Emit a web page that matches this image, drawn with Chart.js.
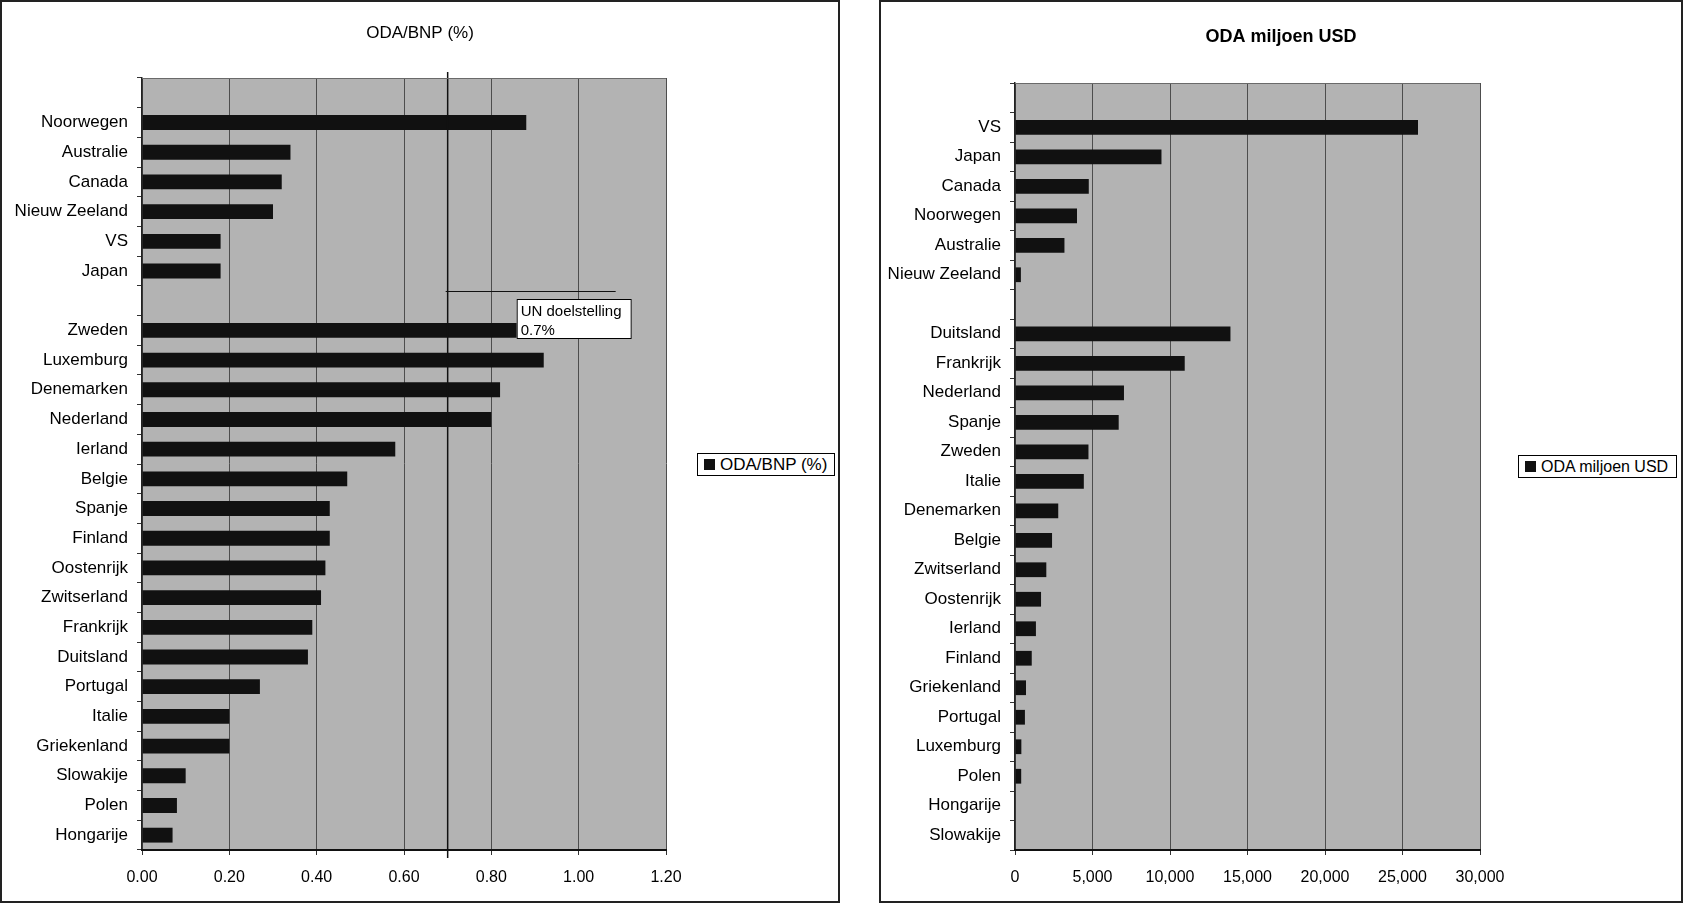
<!DOCTYPE html>
<html>
<head>
<meta charset="utf-8">
<script src="https://cdn.jsdelivr.net/npm/chart.js@4.4.1/dist/chart.umd.min.js"></script>
<style>
  body { margin: 0; background: #fff; }
  .paneel { position: absolute; top: 0; height: 903px; }
  .paneel canvas { position: absolute; left: 0; top: 0; }
  .rand { position: absolute; left: 0; top: 0; right: 0; bottom: 0; box-sizing: border-box; border: 2px solid #222; pointer-events: none; }
  .legenda { position: absolute; height: 23px; box-sizing: border-box; border: 1px solid #000; background: #fff;
             display: flex; align-items: center; padding-left: 6px; font: 17px 'Liberation Sans', Arial, sans-serif; color: #000; white-space: nowrap; }
  .legenda .blok { width: 11px; height: 11px; background: #111; margin-right: 5px; flex: none; }
</style>
</head>
<body>
<div class="paneel" style="left:0;width:840px">
  <canvas id="grafiekL" width="840" height="903"></canvas>
  <div class="rand"></div>
  <div class="legenda" id="legL" style="left:697px;top:453px;width:138px"></div>
</div>
<div class="paneel" style="left:879px;width:804px">
  <canvas id="grafiekR" width="804" height="903"></canvas>
  <div class="rand"></div>
  <div class="legenda" id="legR" style="left:639px;top:455px;width:159px;font-size:16px"></div>
</div>
<script>
// ODA als percentage van het BNP (lege plekken scheiden de groepen)
var landenBnp = ['', 'Noorwegen', 'Australie', 'Canada', 'Nieuw Zeeland', 'VS', 'Japan', '',
    'Zweden', 'Luxemburg', 'Denemarken', 'Nederland', 'Ierland', 'Belgie', 'Spanje', 'Finland',
    'Oostenrijk', 'Zwitserland', 'Frankrijk', 'Duitsland', 'Portugal', 'Italie', 'Griekenland',
    'Slowakije', 'Polen', 'Hongarije'];
var odaBnp = [null, 0.88, 0.34, 0.32, 0.30, 0.18, 0.18, null,
    0.98, 0.92, 0.82, 0.80, 0.58, 0.47, 0.43, 0.43,
    0.42, 0.41, 0.39, 0.38, 0.27, 0.20, 0.20,
    0.10, 0.08, 0.07];
var bnpTicks = { min: 0, max: 1.2, stap: 0.2 };
var unDoel = 0.7;

// ODA in miljoen USD
var landenUsd = ['', 'VS', 'Japan', 'Canada', 'Noorwegen', 'Australie', 'Nieuw Zeeland', '',
    'Duitsland', 'Frankrijk', 'Nederland', 'Spanje', 'Zweden', 'Italie', 'Denemarken', 'Belgie',
    'Zwitserland', 'Oostenrijk', 'Ierland', 'Finland', 'Griekenland', 'Portugal', 'Luxemburg',
    'Polen', 'Hongarije', 'Slowakije'];
var odaUsd = [null, 26000, 9450, 4760, 4000, 3190, 380, null,
    13900, 10950, 7030, 6690, 4740, 4440, 2790, 2390,
    2020, 1680, 1350, 1080, 710, 640, 410,
    400, 0, 0];
var usdTicks = { min: 0, max: 30000, stap: 5000 };

Chart.defaults.font.family = "'Liberation Sans', Arial, sans-serif";
Chart.defaults.color = '#000';

// grijze achtergrond van het plotvlak + bovenrand
var achtergrond = {
    id: 'achtergrond',
    beforeDraw: function(chart) {
        var a = chart.chartArea, ctx = chart.ctx;
        ctx.save();
        ctx.fillStyle = '#b3b3b3';
        ctx.fillRect(a.left, a.top, a.right - a.left, a.bottom - a.top);
        ctx.restore();
    },
    afterDraw: function(chart) {
        var a = chart.chartArea, ctx = chart.ctx;
        ctx.save();
        ctx.strokeStyle = '#6a6a6a';
        ctx.lineWidth = 1;
        ctx.beginPath();
        ctx.moveTo(a.left, a.top + 0.5);
        ctx.lineTo(a.right, a.top + 0.5);
        ctx.stroke();
        ctx.restore();
    }
};

// UN doelstelling 0.7%
var unLijn = {
    id: 'unLijn',
    afterDatasetsDraw: function(chart) {
        var a = chart.chartArea, ctx = chart.ctx;
        var px = chart.scales.x.getPixelForValue(unDoel);
        ctx.save();
        ctx.strokeStyle = '#111';
        ctx.lineWidth = 1.5;
        ctx.beginPath();
        ctx.moveTo(px, a.top - 6);
        ctx.lineTo(px, a.bottom + 8);
        ctx.stroke();

        var ly = a.top + 213.5;
        ctx.lineWidth = 1.2;
        ctx.beginPath();
        ctx.moveTo(px - 2, ly);
        ctx.lineTo(px + 168, ly);
        ctx.stroke();

        var bx = px + 69, by = a.top + 221;
        ctx.fillStyle = '#fff';
        ctx.fillRect(bx, by, 115, 40);
        ctx.strokeStyle = '#000';
        ctx.lineWidth = 1;
        ctx.strokeRect(bx + 0.5, by + 0.5, 114, 39);
        ctx.fillStyle = '#000';
        ctx.font = "15px 'Liberation Sans', Arial, sans-serif";
        ctx.textBaseline = 'middle';
        ctx.textAlign = 'left';
        ctx.fillText('UN doelstelling', bx + 4, by + 13);
        ctx.fillText('0.7%', bx + 4, by + 32);
        ctx.restore();
    }
};

function maakGrafiek(id, titel, titelFont, titelPad, labels, waarden, schaal, fmt, maten, extra) {
    return new Chart(document.getElementById(id), {
        type: 'bar',
        data: {
            labels: labels,
            datasets: [{
                label: titel,
                data: waarden,
                backgroundColor: '#111',
                borderWidth: 0,
                categoryPercentage: 1,
                barPercentage: 0.5
            }]
        },
        options: {
            responsive: false,
            animation: false,
            indexAxis: 'y',
            layout: { padding: 0 },
            plugins: {
                legend: { display: false },
                tooltip: { enabled: false },
                title: {
                    display: true,
                    text: titel,
                    color: '#000',
                    font: titelFont,
                    padding: titelPad
                }
            },
            scales: {
                y: {
                    ticks: { autoSkip: false, font: { size: 17 }, color: '#000', padding: 9 },
                    grid: { drawOnChartArea: false, tickLength: 5, color: '#333', offset: true },
                    border: { color: '#222', width: 1.5 },
                    afterFit: function(s) { s.width = maten.links; }
                },
                x: {
                    min: schaal.min,
                    max: schaal.max,
                    ticks: { stepSize: schaal.stap, callback: fmt, font: { size: 16 }, color: '#000', padding: 13 },
                    grid: { color: '#4d4d4d', lineWidth: 1, tickLength: 5, tickColor: '#333' },
                    border: { color: '#111', width: 2 },
                    afterFit: function(s) { s.height = maten.onder; }
                },
                rechts: {
                    type: 'category',
                    position: 'right',
                    labels: [''],
                    grid: { display: false },
                    border: { display: false },
                    ticks: { display: false },
                    afterFit: function(s) { s.width = maten.rechts; }
                }
            }
        },
        plugins: [achtergrond].concat(extra)
    });
}

var grafiekL = maakGrafiek('grafiekL', 'ODA/BNP (%)',
    { size: 17, weight: 'normal' }, { top: 22.8, bottom: 34.8 },
    landenBnp, odaBnp, bnpTicks,
    function(v) { return Number(v).toFixed(2); },
    { links: 142, rechts: 174, onder: 53 }, [unLijn]);

var grafiekR = maakGrafiek('grafiekR', 'ODA miljoen USD',
    { size: 18, weight: 'bold' }, { top: 26.2, bottom: 35.2 },
    landenUsd, odaUsd, usdTicks,
    function(v) { return Number(v).toLocaleString('en-US'); },
    { links: 136, rechts: 203, onder: 53 }, []);

// legenda's als tekst in de pagina
[[grafiekL, 'legL'], [grafiekR, 'legR']].forEach(function(p) {
    var el = document.getElementById(p[1]);
    var blok = document.createElement('span');
    blok.className = 'blok';
    el.appendChild(blok);
    el.appendChild(document.createTextNode(p[0].data.datasets[0].label));
});
</script>
</body>
</html>
